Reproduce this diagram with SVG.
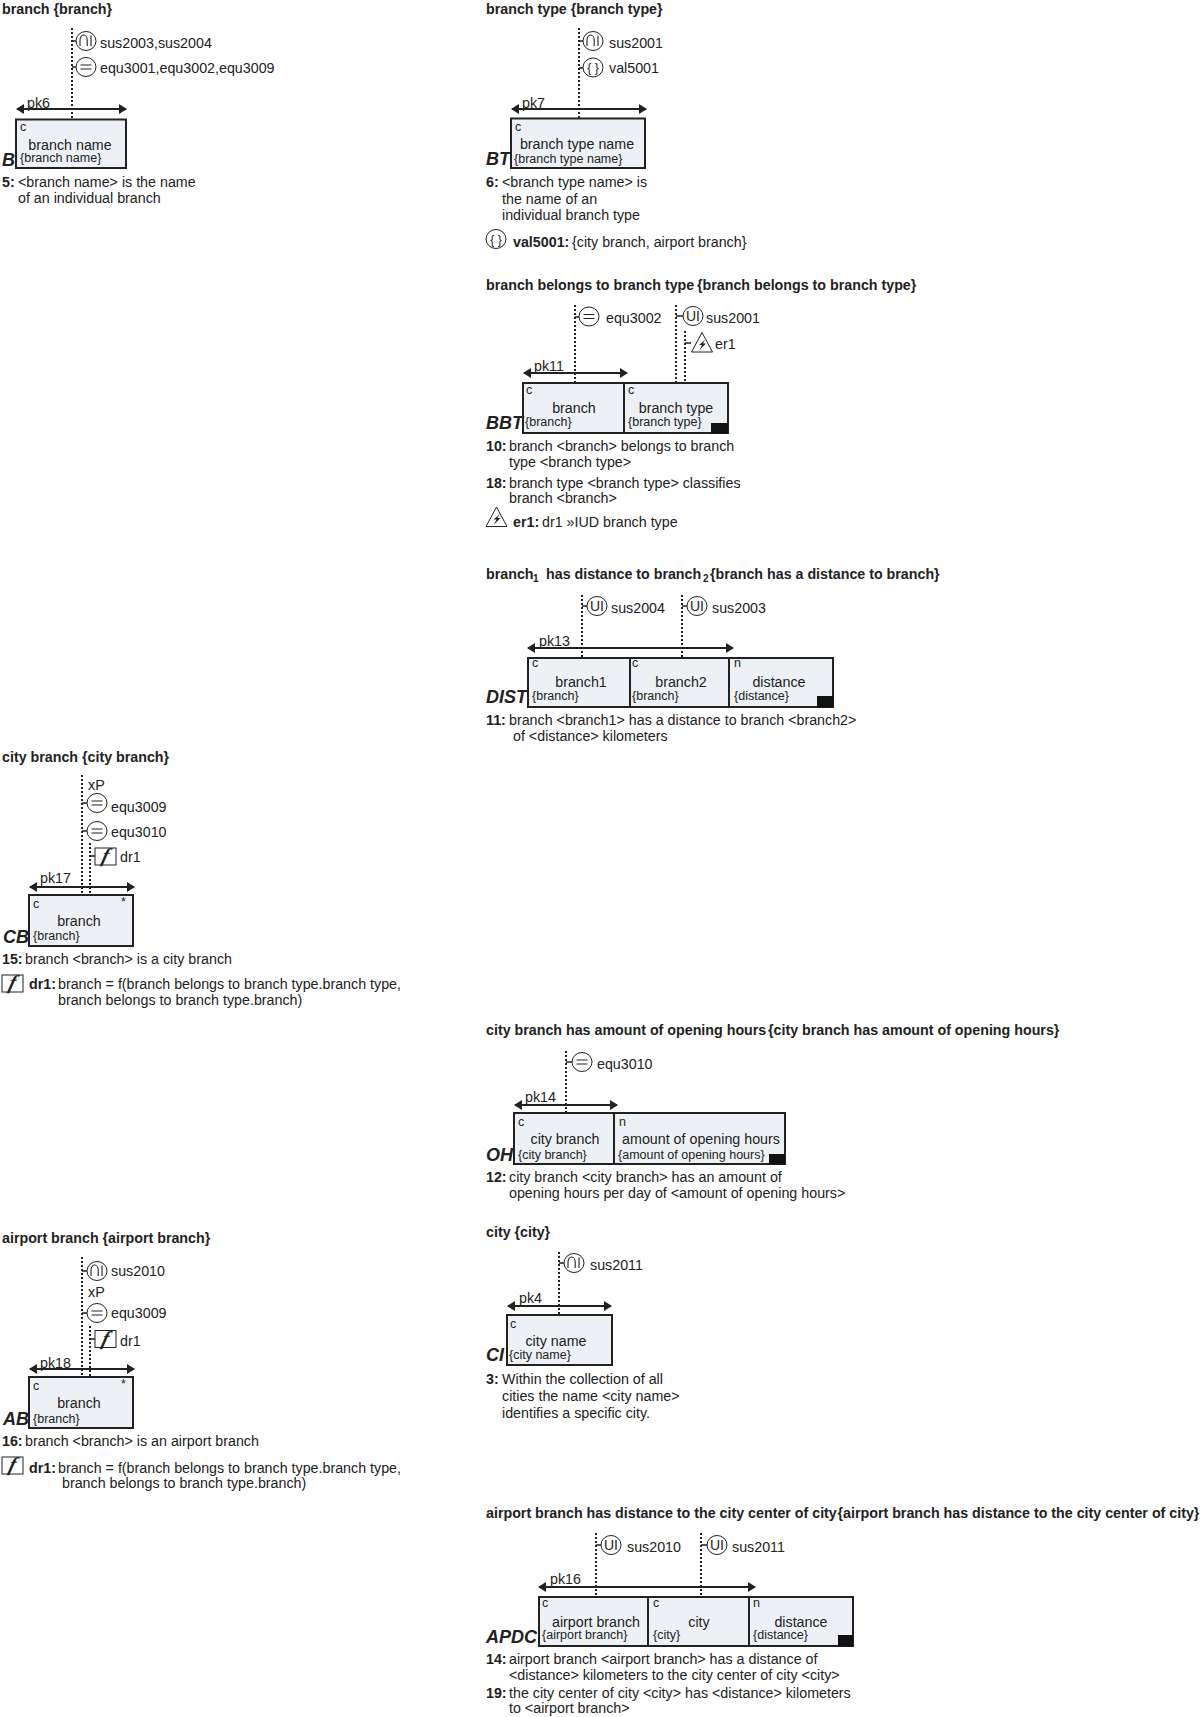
<svg xmlns="http://www.w3.org/2000/svg" width="1200" height="1717" viewBox="0 0 1200 1717">
<style>
text{font-family:"Liberation Sans",Arial,sans-serif;fill:#222}
.t{font-size:14.25px;font-weight:700}
.b{font-size:14.28px}
.s{font-size:12.5px}
.m{text-anchor:middle}
.l{font-size:18px;font-weight:700;font-style:italic}
.f{fill:#edf1f5;stroke:#222;stroke-width:2}
.d{stroke:#222;stroke-width:2}
.k{fill:#111}
.dot{stroke:#222;stroke-width:2;stroke-dasharray:2 2;fill:none}
.stub{stroke:#222;stroke-width:1.3;fill:none}
.pk{stroke:#222;stroke-width:1.8;fill:none;marker-start:url(#ah);marker-end:url(#ah)}
.ic{fill:#fff;stroke:#222;stroke-width:1}
.ig{font-size:14px;text-anchor:middle}
.iv{font-size:12px;text-anchor:middle}
.ff{font-family:"Liberation Serif",serif;font-style:italic;font-weight:700;font-size:20px;text-anchor:middle}
</style>
<defs>
<marker id="ah" viewBox="0 0 8 10" refX="7" refY="5" markerWidth="8" markerHeight="10" markerUnits="userSpaceOnUse" orient="auto-start-reverse"><path d="M0 0L8 5L0 10z" fill="#222"/></marker>
<g id="i-sub"><ellipse class="ic" rx="10" ry="9.5"/><path d="M-6 5V-1A3.600 5 0 0 1 1.200 -1V5M5 -5.500V5" fill="none" stroke="#222" stroke-width="1.100"/></g>
<g id="i-eq"><ellipse class="ic" rx="10" ry="9.500"/><path d="M-5.500 -2H5.500M-5.500 2H5.500" stroke="#222" stroke-width="1.100"/></g>
<g id="i-ui"><ellipse class="ic" rx="10" ry="9.500"/><text class="ig" y="5">UI</text></g>
<g id="i-val"><ellipse class="ic" rx="10" ry="9.500"/><text class="iv" y="4.500">{ }</text></g>
<g id="i-tri"><path class="ic" d="M0 -10.500L-10.500 9H10.500z"/><path d="M3 -3L-3 2L0 2L-2.500 7L4 0.500L1 0.500z" fill="#222"/></g>
<g id="i-f"><rect class="ic" x="-10.500" y="-8.500" width="21" height="17"/><text class="ff" y="5.500" transform="skewX(-15)">f</text></g>
</defs>

<g id="connectors">
<path class="dot" d="M72 28V119M579 28V118M575 305V383M676 305V383M685 331V383M582 595V658M682 595V658M82 775V895M90 843V895M82 1257V1377M90 1326V1377M566 1051V1113M559 1252V1315M596 1533V1597M701 1533V1597"/>
<path class="stub" d="M72 41H76M72 67H76M579 41H583M579 68H583M575 317H579M676 316H683M685 343H691M582 606H587M682 606H687M82 803H87M82 831H87M90 856H95M82 1271H87M82 1313H87M90 1339H95M566 1062H572M559 1263H564M596 1545H601M701 1545H707"/>
<path class="pk" d="M17 109H126"/>
<path class="pk" d="M512 109H646"/>
<path class="pk" d="M524 373H627"/>
<path class="pk" d="M528 648H733"/>
<path class="pk" d="M30 887H134"/>
<path class="pk" d="M515 1105H617"/>
<path class="pk" d="M30 1369H134"/>
<path class="pk" d="M508 1306H611"/>
<path class="pk" d="M539 1587H755"/>
</g>

<g id="node-B">
<text class="t" x="2" y="14">branch {branch}</text>
<use href="#i-sub" x="86" y="41"/><text class="b" x="100" y="48">sus2003,sus2004</text>
<use href="#i-eq" x="86" y="67"/><text class="b" x="100" y="73">equ3001,equ3002,equ3009</text>
<text class="b" x="27" y="108">pk6</text>
<rect class="f" x="16" y="119.500" width="110" height="48.500"/>
<text class="s" x="20" y="131">c</text>
<text class="b m" x="70" y="150">branch name</text>
<text class="s" x="20" y="162">{branch name}</text>
<text class="l" x="2" y="166">B</text>
<text class="b" x="2" y="187"><tspan font-weight="700">5:</tspan><tspan x="18">&lt;branch name&gt; is the name</tspan></text>
<text class="b" x="18" y="203">of an individual branch</text>
</g>

<g id="node-BT">
<text class="t" x="486" y="14">branch type {branch type}</text>
<use href="#i-sub" x="593" y="41"/><text class="b" x="609" y="48">sus2001</text>
<use href="#i-val" x="593" y="67.500"/><text class="b" x="609" y="73">val5001</text>
<text class="b" x="522" y="108">pk7</text>
<rect class="f" x="511" y="118.500" width="134" height="49.500"/>
<text class="s" x="515" y="131">c</text>
<text class="b m" x="577" y="149">branch type name</text>
<text class="s" x="514" y="163">{branch type name}</text>
<text class="l" x="486" y="165">BT</text>
<text class="b" x="486" y="187"><tspan font-weight="700">6:</tspan><tspan x="502">&lt;branch type name&gt; is</tspan></text>
<text class="b" x="502" y="204">the name of an</text>
<text class="b" x="502" y="220">individual branch type</text>
<use href="#i-val" x="496" y="239"/>
<text class="b" x="513" y="247"><tspan font-weight="700">val5001:</tspan><tspan x="572">{city branch, airport branch}</tspan></text>
</g>

<g id="node-BBT">
<text class="t" x="486" y="290">branch belongs to branch type<tspan x="697">{branch belongs to branch type}</tspan></text>
<use href="#i-eq" x="589" y="316.500"/><text class="b" x="606" y="323">equ3002</text>
<use href="#i-ui" x="693" y="316"/><text class="b" x="706" y="323">sus2001</text>
<use href="#i-tri" x="702" y="343"/><text class="b" x="715" y="349">er1</text>
<text class="b" x="534" y="371">pk11</text>
<rect class="f" x="523" y="383" width="205" height="50"/>
<path class="d" d="M624 383V433"/>
<rect class="k" x="711" y="423" width="17" height="10.500"/>
<text class="s" x="526" y="394">c</text><text class="s" x="628" y="394">c</text>
<text class="b m" x="574" y="413">branch</text><text class="b m" x="676" y="413">branch type</text>
<text class="s" x="525" y="426">{branch}</text><text class="s" x="628" y="426">{branch type}</text>
<text class="l" x="486" y="429">BBT</text>
<text class="b" x="486" y="451"><tspan font-weight="700">10:</tspan><tspan x="509">branch &lt;branch&gt; belongs to branch</tspan></text>
<text class="b" x="509" y="467">type &lt;branch type&gt;</text>
<text class="b" x="486" y="488"><tspan font-weight="700">18:</tspan><tspan x="509">branch type &lt;branch type&gt; classifies</tspan></text>
<text class="b" x="509" y="503">branch &lt;branch&gt;</text>
<use href="#i-tri" x="496.500" y="517.500"/>
<text class="b" x="513" y="527"><tspan font-weight="700">er1:</tspan><tspan x="542">dr1 »IUD branch type</tspan></text>
</g>

<g id="node-DIST">
<text class="t" x="486" y="579">branch<tspan x="533" dy="3" font-size="10">1</tspan><tspan x="546" dy="-3">has distance to branch</tspan><tspan x="703" dy="3" font-size="10">2</tspan><tspan x="710" dy="-3">{branch has a distance to branch}</tspan></text>
<use href="#i-ui" x="597" y="606"/><text class="b" x="611" y="613">sus2004</text>
<use href="#i-ui" x="697" y="606"/><text class="b" x="712" y="613">sus2003</text>
<text class="b" x="539" y="646">pk13</text>
<rect class="f" x="528" y="658" width="305" height="49"/>
<path class="d" d="M630 658V707M729 658V707"/>
<rect class="k" x="817" y="696" width="16" height="11.500"/>
<text class="s" x="532" y="667">c</text><text class="s" x="632" y="667">c</text><text class="s" x="734" y="667">n</text>
<text class="b m" x="581" y="687">branch1</text><text class="b m" x="681" y="687">branch2</text><text class="b m" x="779" y="687">distance</text>
<text class="s" x="532" y="700">{branch}</text><text class="s" x="632" y="700">{branch}</text><text class="s" x="734" y="700">{distance}</text>
<text class="l" x="486" y="703">DIST</text>
<text class="b" x="486" y="725"><tspan font-weight="700">11:</tspan><tspan x="509">branch &lt;branch1&gt; has a distance to branch &lt;branch2&gt;</tspan></text>
<text class="b" x="513" y="741">of &lt;distance&gt; kilometers</text>
</g>

<g id="node-CB">
<text class="t" x="2" y="762">city branch {city branch}</text>
<text class="b" x="88" y="790">xP</text>
<use href="#i-eq" x="97" y="803"/><text class="b" x="111" y="812">equ3009</text>
<use href="#i-eq" x="97" y="831"/><text class="b" x="111" y="837">equ3010</text>
<use href="#i-f" x="105.500" y="856.500"/><text class="b" x="120" y="862">dr1</text>
<text class="b" x="40" y="883">pk17</text>
<rect class="f" x="29" y="895" width="104" height="51"/>
<text class="s" x="33" y="908">c</text><text class="s" x="121" y="906">*</text>
<text class="b m" x="79" y="926">branch</text>
<text class="s" x="33" y="940">{branch}</text>
<text class="l" x="3" y="943">CB</text>
<text class="b" x="2" y="964"><tspan font-weight="700">15:</tspan><tspan x="25">branch &lt;branch&gt; is a city branch</tspan></text>
<use href="#i-f" x="12.500" y="983.500"/>
<text class="b" x="29" y="989"><tspan font-weight="700">dr1:</tspan><tspan x="58">branch = f(branch belongs to branch type.branch type,</tspan></text>
<text class="b" x="58" y="1005">branch belongs to branch type.branch)</text>
</g>

<g id="node-OH">
<text class="t" x="486" y="1035">city branch has amount of opening hours<tspan x="768">{city branch has amount of opening hours}</tspan></text>
<use href="#i-eq" x="582" y="1062"/><text class="b" x="597" y="1069">equ3010</text>
<text class="b" x="525" y="1102">pk14</text>
<rect class="f" x="514" y="1113" width="271" height="51"/>
<path class="d" d="M614 1113V1164"/>
<rect class="k" x="769" y="1154" width="16" height="10.500"/>
<text class="s" x="518" y="1126">c</text><text class="s" x="619" y="1126">n</text>
<text class="b m" x="565" y="1144">city branch</text><text class="b m" x="701" y="1144">amount of opening hours</text>
<text class="s" x="518" y="1159">{city branch}</text><text class="s" x="618" y="1159">{amount of opening hours}</text>
<text class="l" x="486" y="1161">OH</text>
<text class="b" x="486" y="1182"><tspan font-weight="700">12:</tspan><tspan x="509">city branch &lt;city branch&gt; has an amount of</tspan></text>
<text class="b" x="509" y="1198">opening hours per day of &lt;amount of opening hours&gt;</text>
</g>

<g id="node-CI">
<text class="t" x="486" y="1237">city {city}</text>
<use href="#i-sub" x="574" y="1263"/><text class="b" x="590" y="1270">sus2011</text>
<text class="b" x="519" y="1303">pk4</text>
<rect class="f" x="507" y="1315" width="105" height="50"/>
<text class="s" x="510" y="1328">c</text>
<text class="b m" x="556" y="1346">city name</text>
<text class="s" x="509" y="1359">{city name}</text>
<text class="l" x="486" y="1361">CI</text>
<text class="b" x="486" y="1384"><tspan font-weight="700">3:</tspan><tspan x="502">Within the collection of all</tspan></text>
<text class="b" x="502" y="1401">cities the name &lt;city name&gt;</text>
<text class="b" x="502" y="1418">identifies a specific city.</text>
</g>

<g id="node-AB">
<text class="t" x="2" y="1243">airport branch {airport branch}</text>
<use href="#i-sub" x="97" y="1271"/><text class="b" x="111" y="1276">sus2010</text>
<text class="b" x="88" y="1297">xP</text>
<use href="#i-eq" x="97" y="1313"/><text class="b" x="111" y="1318">equ3009</text>
<use href="#i-f" x="105.500" y="1339"/><text class="b" x="120" y="1346">dr1</text>
<text class="b" x="40" y="1368">pk18</text>
<rect class="f" x="29" y="1377" width="104" height="51"/>
<text class="s" x="33" y="1390">c</text><text class="s" x="121" y="1388">*</text>
<text class="b m" x="79" y="1408">branch</text>
<text class="s" x="33" y="1423">{branch}</text>
<text class="l" x="3" y="1425">AB</text>
<text class="b" x="2" y="1446"><tspan font-weight="700">16:</tspan><tspan x="25">branch &lt;branch&gt; is an airport branch</tspan></text>
<use href="#i-f" x="12.500" y="1465.500"/>
<text class="b" x="29" y="1473"><tspan font-weight="700">dr1:</tspan><tspan x="58">branch = f(branch belongs to branch type.branch type,</tspan></text>
<text class="b" x="62" y="1488">branch belongs to branch type.branch)</text>
</g>

<g id="node-APDC">
<text class="t" x="486" y="1518">airport branch has distance to the city center of city<tspan x="837.500">{airport branch has distance to the city center of city}</tspan></text>
<use href="#i-ui" x="611" y="1545"/><text class="b" x="627" y="1552">sus2010</text>
<use href="#i-ui" x="717" y="1545"/><text class="b" x="732" y="1552">sus2011</text>
<text class="b" x="550" y="1584">pk16</text>
<rect class="f" x="539" y="1597" width="314" height="49"/>
<path class="d" d="M648 1597V1646M749 1597V1646"/>
<rect class="k" x="838" y="1635" width="15" height="11.500"/>
<text class="s" x="542" y="1607">c</text><text class="s" x="653" y="1607">c</text><text class="s" x="753" y="1607">n</text>
<text class="b m" x="596" y="1627">airport branch</text><text class="b m" x="699" y="1627">city</text><text class="b m" x="801" y="1627">distance</text>
<text class="s" x="542" y="1639">{airport branch}</text><text class="s" x="653" y="1639">{city}</text><text class="s" x="753" y="1639">{distance}</text>
<text class="l" x="486" y="1643">APDC</text>
<text class="b" x="486" y="1664"><tspan font-weight="700">14:</tspan><tspan x="509">airport branch &lt;airport branch&gt; has a distance of</tspan></text>
<text class="b" x="509" y="1680">&lt;distance&gt; kilometers to the city center of city &lt;city&gt;</text>
<text class="b" x="486" y="1698"><tspan font-weight="700">19:</tspan><tspan x="509">the city center of city &lt;city&gt; has &lt;distance&gt; kilometers</tspan></text>
<text class="b" x="509" y="1713">to &lt;airport branch&gt;</text>
</g>
</svg>
